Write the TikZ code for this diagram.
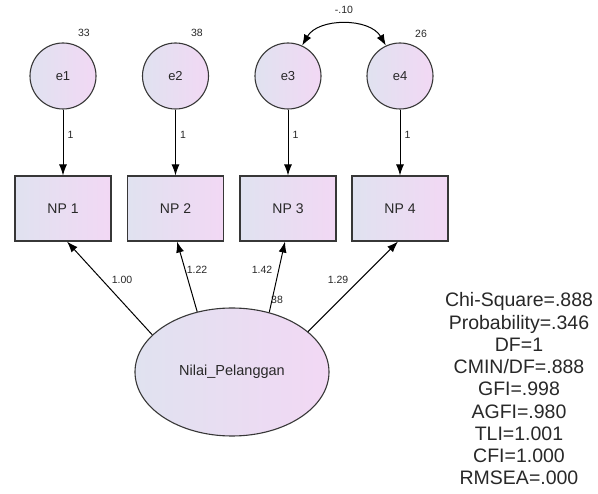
\documentclass[tikz,border=0pt]{standalone}
\usepackage{fontspec}
\setmainfont{Liberation Sans}
\usetikzlibrary{arrows.meta,calc,shapes.geometric}
\definecolor{lcol}{RGB}{224,226,240}
\definecolor{rcol}{RGB}{242,216,244}
\definecolor{edgec}{RGB}{55,55,55}
\definecolor{txt}{RGB}{40,40,40}
\begin{document}
\begin{tikzpicture}[x=1pt,y=-1pt,
  shapebase/.style={draw=edgec, line width=1.1pt, left color=lcol, right color=rcol, inner sep=0pt, text=txt},
  errc/.style={shapebase, circle, minimum size=66pt, font=\fontsize{13}{13}\selectfont},
  obs/.style={shapebase, rectangle, minimum width=96pt, minimum height=65pt, font=\fontsize{14}{14}\selectfont},
  latv/.style={shapebase, ellipse, minimum width=194pt, minimum height=128pt, font=\fontsize{14.5}{14.5}\selectfont},
  lbl/.style={inner sep=0pt, text=txt, font=\fontsize{10.5}{10.5}\selectfont},
  arr/.style={draw=black, line width=1pt, -{Latex[length=11pt,width=8pt]}},
  darr/.style={draw=black, line width=1pt, {Latex[length=11pt,width=8pt]}-{Latex[length=11pt,width=8pt]}},
  fitstats/.style={align=center, inner sep=0pt, text=txt, font=\fontsize{19.5}{22.25}\selectfont}]
\fill[white] (0,0) rectangle (598,494);
\useasboundingbox (0,0) rectangle (598,494);

% error terms
\node[errc] (e1) at (63,76) {e1};
\node[errc] (e2) at (175.5,76) {e2};
\node[errc] (e3) at (288,76) {e3};
\node[errc] (e4) at (400,76) {e4};

% observed variables
\node[obs] (np1) at (63,208.5) {NP 1};
\node[obs] (np2) at (175.5,208.5) {NP 2};
\node[obs] (np3) at (288,208.5) {NP 3};
\node[obs] (np4) at (400,208.5) {NP 4};

% latent variable
\node[latv] (lat) at (232,372) {Nilai\_Pelanggan};

% variances
\node[lbl] (v1) at (84,33) {33};
\node[lbl] (v2) at (197,33) {38};
\node[lbl] (v4) at (421,34) {26};
\node[lbl] (v5) at (277,300) {38};

% error paths
\draw[arr] (e1) -- node[lbl, right=4pt, pos=0.38] {1} (np1);
\draw[arr] (e2) -- node[lbl, right=4pt, pos=0.38] {1} (np2);
\draw[arr] (e3) -- node[lbl, right=4pt, pos=0.38] {1} (np3);
\draw[arr] (e4) -- node[lbl, right=4pt, pos=0.38] {1} (np4);

% covariance
\draw[darr] (e3.65) .. controls +(16,-28) and +(-16,-28) .. (e4.115);
\node[lbl] (cov) at (344,10) {-.10};

% loadings
\draw[arr] (lat.155) -- ($(np1.south)+(4,0)$);
\draw[arr] (lat.120) -- ($(np2.south)+(1.5,0)$);
\draw[arr] (lat.58) -- ($(np3.south)+(-3,0)$);
\draw[arr] (lat.28) -- ($(np4.south)+(-2,0)$);
\node[lbl] (l1) at (122,280) {1.00};
\node[lbl] (l2) at (197,270) {1.22};
\node[lbl] (l3) at (262,270) {1.42};
\node[lbl] (l4) at (338,280) {1.29};

% fit statistics
\node[fitstats] (fit) at (519,389) {Chi-Square=.888\\Probability=.346\\DF=1\\CMIN/DF=.888\\GFI=.998\\AGFI=.980\\TLI=1.001\\CFI=1.000\\RMSEA=.000};
\end{tikzpicture}
\end{document}
